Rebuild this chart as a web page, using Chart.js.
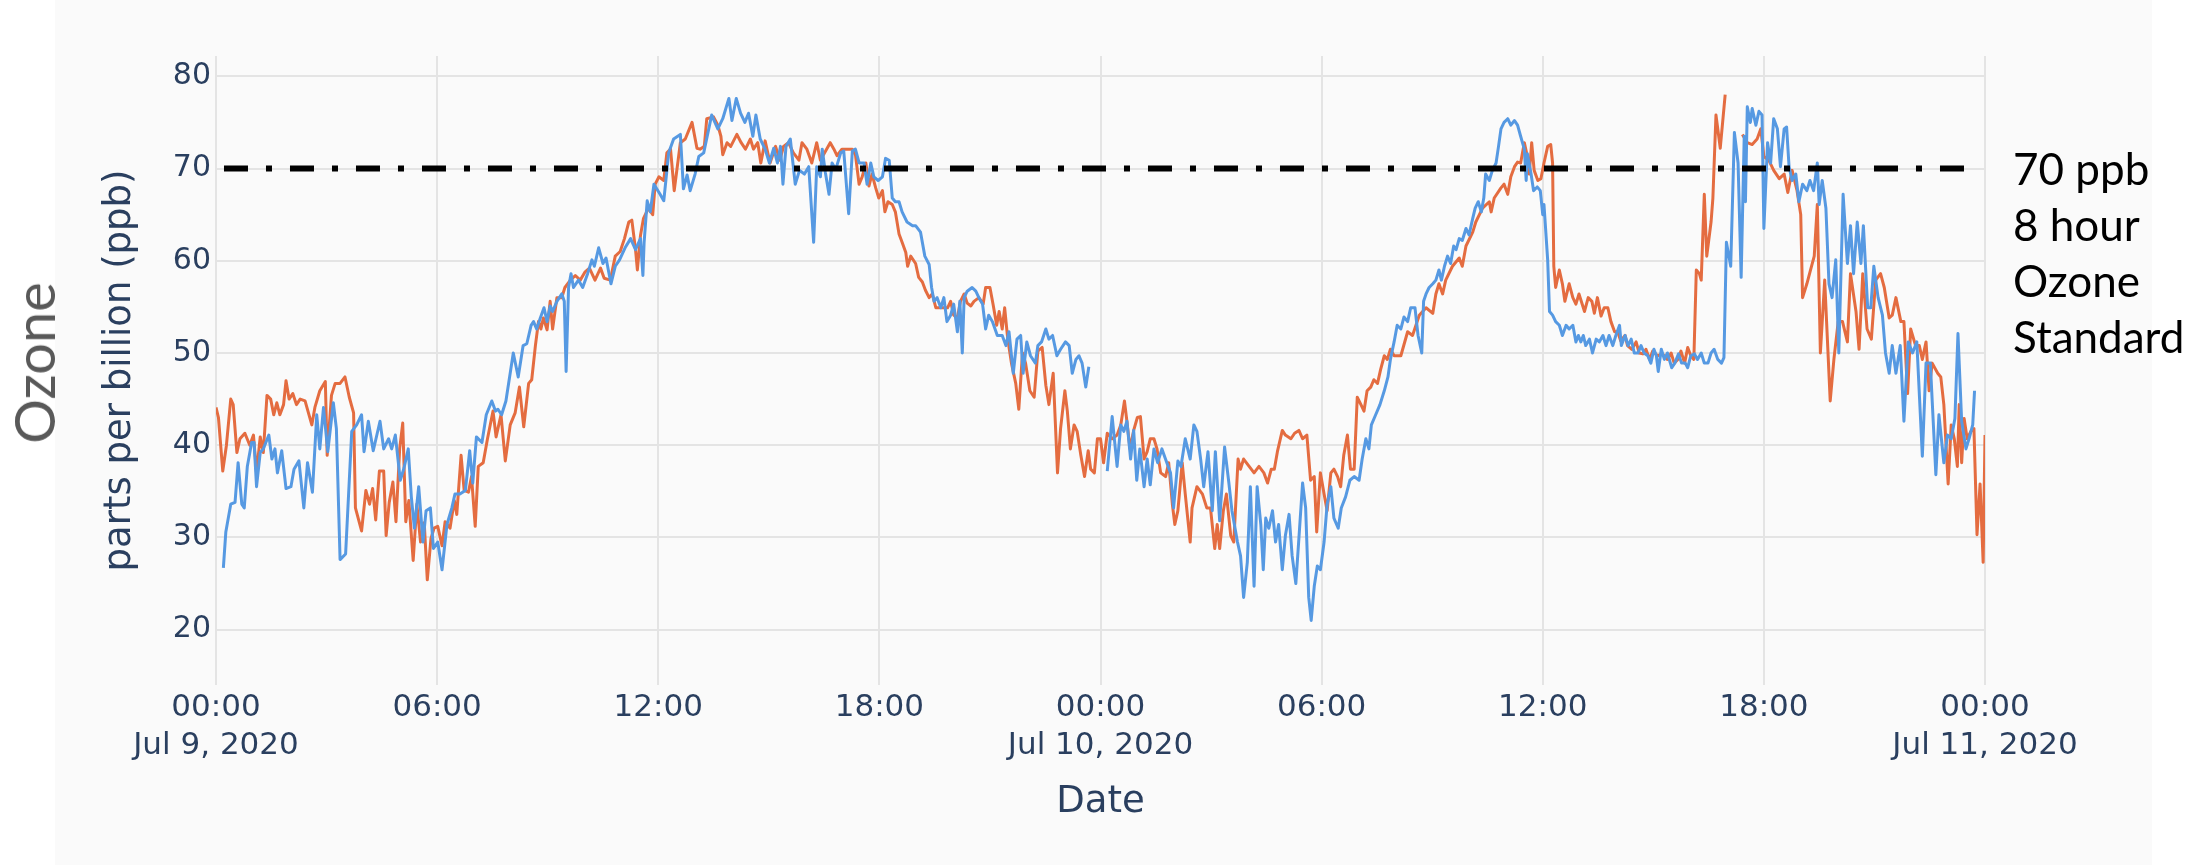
<!DOCTYPE html>
<html>
<head>
<meta charset="utf-8">
<title>Ozone, parts per billion, Jul 9–11, 2020</title>
<script src="https://cdn.jsdelivr.net/npm/chart.js@4.4.1/dist/chart.umd.min.js"></script>
<style>
  html, body { margin: 0; padding: 0; background: #ffffff; }
  #page { position: relative; width: 2202px; height: 865px; overflow: hidden; background: #ffffff; }
  #panel { position: absolute; left: 55px; top: 0; width: 2097px; height: 865px; background: #fafafa; }
  #chart { position: absolute; left: 0; top: 0; }
  #side {
    position: absolute; left: 34px; top: 363px;
    transform: translate(-50%, -50%) rotate(-90deg);
    font-family: Lato, "Open Sans", sans-serif; font-weight: 400; font-size: 56px;
    line-height: 1; color: #595959; white-space: nowrap;
  }
  #note {
    position: absolute; left: 2013px; top: 140px;
    font-family: Lato, "Open Sans", sans-serif; font-size: 44px; line-height: 56px;
    color: #000000; white-space: nowrap;
  }
</style>
</head>
<body>
<div id="page">
  <div id="panel"></div>
  <canvas id="chart" width="2202" height="865"></canvas>
  <div id="side">Ozone</div>
  <div id="note">70 ppb<br>8 hour<br>Ozone<br>Standard</div>
</div>
<script>
// Time axis: minutes after 00:00, Jul 9, 2020
const START_UTC = Date.UTC(2020, 6, 9);
const MONTHS = ['Jan', 'Feb', 'Mar', 'Apr', 'May', 'Jun', 'Jul', 'Aug', 'Sep', 'Oct', 'Nov', 'Dec'];
const xTicks = [0, 360, 720, 1080, 1440, 1800, 2160, 2520, 2880];
const yTicks = [20, 30, 40, 50, 60, 70, 80];

// 8-hour ozone standard (ppb)
const standardMinutes = [13, 2846];
const standardValues = [70, 70];

// Sensor 1 (blue)
const blueMinutes = [
  12, 16, 24, 31, 36, 42, 46, 51, 58, 62, 66, 72, 77, 86, 91, 96, 100, 107, 114, 122,
  127, 135, 143, 149, 157, 164, 169, 175, 182, 191, 196, 202, 211, 221, 229, 237, 241, 248, 256, 267,
  273, 281, 286, 292, 300, 306, 313, 318, 323, 330, 337, 342, 349, 354, 361, 368, 376, 384, 389, 397,
  406, 413, 418, 424, 433, 440, 449, 455, 459, 465, 472, 484, 492, 500, 506, 513, 517, 522, 528, 534,
  539, 544, 548, 555, 563, 567, 570, 574, 578, 582, 590, 597, 605, 612, 616, 623, 630, 635, 643, 650,
  657, 666, 675, 683, 691, 695, 697, 702, 707, 713, 723, 729, 737, 745, 756, 761, 767, 772, 780, 786,
  794, 807, 817, 825, 835, 840, 847, 854, 861, 867, 874, 879, 886, 894, 901, 908, 914, 919, 923, 928,
  935, 943, 950, 958, 965, 973, 978, 984, 987, 992, 998, 1003, 1009, 1017, 1022, 1030, 1036, 1041, 1047, 1055,
  1060, 1066, 1071, 1078, 1085, 1090, 1096, 1101, 1106, 1112, 1117, 1125, 1134, 1139, 1147, 1154, 1161, 1165, 1169, 1174,
  1180, 1185, 1190, 1196, 1201, 1207, 1211, 1215, 1218, 1223, 1231, 1237, 1242, 1248, 1253, 1258, 1264, 1272, 1280, 1286,
  1291, 1298, 1304, 1310, 1314, 1320, 1326, 1334, 1338, 1344, 1351, 1356, 1362, 1369, 1375, 1383, 1389, 1394, 1400, 1405,
  1410, 1416, 1421, 1436, 1451, 1459, 1467, 1473, 1478, 1483, 1489, 1494, 1499, 1504, 1511, 1516, 1521, 1527, 1533, 1540,
  1548, 1554, 1559, 1566, 1571, 1578, 1586, 1592, 1597, 1603, 1608, 1615, 1622, 1627, 1634, 1642, 1649, 1654, 1663, 1668,
  1673, 1679, 1684, 1690, 1695, 1701, 1705, 1709, 1714, 1720, 1725, 1730, 1736, 1741, 1747, 1752, 1758, 1763, 1769, 1774,
  1779, 1783, 1788, 1793, 1798, 1804, 1809, 1815, 1820, 1827, 1832, 1839, 1846, 1853, 1861, 1866, 1872, 1877, 1881, 1888,
  1895, 1902, 1908, 1912, 1918, 1923, 1929, 1934, 1940, 1945, 1952, 1957, 1963, 1966, 1970, 1975, 1981, 1986, 1991, 1995,
  2000, 2005, 2010, 2015, 2019, 2024, 2029, 2035, 2040, 2046, 2050, 2055, 2060, 2064, 2067, 2073, 2078, 2084, 2088, 2092,
  2097, 2103, 2108, 2114, 2119, 2124, 2130, 2133, 2135, 2141, 2145, 2151, 2156, 2160, 2162, 2165, 2168, 2171, 2176, 2181,
  2187, 2192, 2198, 2203, 2209, 2214, 2218, 2222, 2226, 2230, 2236, 2241, 2247, 2252, 2258, 2263, 2268, 2274, 2279, 2285,
  2288, 2294, 2299, 2304, 2309, 2315, 2320, 2325, 2331, 2336, 2341, 2345, 2348, 2353, 2358, 2363, 2370, 2375, 2381, 2386,
  2392, 2396, 2401, 2407, 2412, 2418, 2423, 2429, 2434, 2439, 2445, 2451, 2455, 2459, 2466, 2472, 2478, 2483, 2488, 2490,
  2493, 2498, 2501, 2507, 2512, 2517, 2520, 2526, 2531, 2536, 2542, 2547, 2553, 2557, 2561, 2566, 2572, 2577, 2583, 2590,
  2595, 2601, 2607, 2610, 2615, 2621, 2626, 2631, 2637, 2642, 2649, 2656, 2661, 2666, 2672, 2678, 2682, 2689, 2694, 2699,
  2706, 2713, 2718, 2724, 2729, 2735, 2742, 2748, 2755, 2762, 2769, 2778, 2784, 2791, 2800, 2805, 2813, 2819, 2825, 2831,
  2836, 2842, 2849, 2854, 2860, 2863
];
const blueValues = [
  26.7, 30.6, 33.6, 33.8, 38.1, 33.6, 33.2, 37.7, 40.3, 40.3, 35.5, 39.2, 39.6, 41.1, 38.5, 39.6, 37.0, 39.4, 35.3, 35.5,
  37.4, 38.3, 33.2, 38.1, 34.9, 43.3, 39.6, 44.1, 39.3, 44.6, 41.8, 27.6, 28.2, 41.5, 42.2, 43.3, 39.3, 42.6, 39.4, 42.6,
  39.6, 40.7, 39.6, 41.1, 36.2, 37.5, 39.6, 34.4, 31.0, 35.5, 29.5, 32.9, 33.2, 28.8, 29.5, 26.5, 31.4, 33.2, 34.7, 34.7,
  35.1, 39.4, 35.9, 40.9, 40.3, 43.3, 44.8, 43.7, 43.9, 43.3, 44.8, 50.0, 47.4, 50.8, 51.0, 53.0, 53.4, 52.6, 53.8, 54.9,
  53.4, 55.1, 54.5, 55.6, 56.4, 55.6, 48.0, 57.1, 58.6, 57.1, 57.9, 57.1, 58.6, 60.1, 59.4, 61.4, 59.7, 60.3, 57.5, 59.4,
  60.1, 61.4, 62.4, 61.2, 62.4, 58.4, 62.0, 66.5, 65.3, 68.3, 67.2, 66.5, 71.7, 73.2, 73.7, 67.8, 69.3, 67.6, 69.4, 71.3,
  71.7, 75.8, 74.3, 75.4, 77.6, 75.2, 77.6, 76.0, 75.0, 76.0, 73.5, 75.8, 73.2, 72.1, 70.6, 72.2, 70.6, 72.4, 68.3, 72.4,
  73.2, 68.3, 69.8, 69.4, 70.2, 62.0, 70.2, 69.1, 72.1, 69.6, 67.2, 70.6, 69.9, 71.7, 71.9, 65.1, 71.9, 72.1, 70.6, 70.6,
  68.3, 70.6, 69.1, 68.7, 69.1, 71.1, 70.9, 66.8, 66.4, 66.4, 65.3, 64.2, 63.8, 63.8, 63.1, 60.5, 59.6, 57.1, 55.6, 56.0,
  54.9, 56.0, 53.4, 54.1, 55.3, 52.3, 55.6, 50.0, 56.0, 56.7, 57.1, 56.7, 56.0, 55.3, 52.6, 54.1, 53.4, 51.9, 51.9, 50.8,
  52.3, 47.8, 51.5, 51.9, 47.8, 51.2, 49.7, 48.9, 50.8, 51.2, 52.6, 51.5, 51.9, 49.7, 50.4, 51.2, 50.8, 47.8, 49.3, 49.7,
  48.9, 46.3, 48.5, null, 37.2, 43.1, 37.7, 42.2, 41.5, 42.6, 38.5, 41.6, 36.2, 39.6, 35.5, 38.5, 35.7, 39.6, 38.1, 39.6,
  38.1, 37.0, 33.2, 38.3, 37.7, 40.7, 38.5, 42.2, 41.5, 38.5, 35.5, 39.3, 32.9, 39.3, 31.8, 39.8, 35.9, 32.9, 29.5, 28.0,
  23.5, 27.3, 35.5, 24.7, 35.5, 31.4, 26.5, 32.1, 31.0, 32.9, 29.5, 31.4, 26.5, 30.2, 32.5, 28.0, 25.0, 29.9, 35.9, 33.2,
  23.5, 21.0, 24.7, 26.9, 26.5, 29.5, 33.6, 35.5, 32.1, 31.0, 33.2, 34.4, 36.2, 36.6, 36.2, 38.5, 40.7, 39.6, 42.2, 43.3,
  44.4, 45.9, 47.4, 49.3, 51.2, 53.0, 52.6, 53.9, 53.4, 54.9, 54.9, 51.9, 50.0, 55.6, 56.4, 57.1, 57.5, 57.9, 59.0, 57.9,
  59.4, 60.5, 59.7, 61.6, 61.2, 62.4, 62.2, 63.5, 62.8, 64.6, 65.7, 66.4, 65.3, 66.8, 69.4, 68.7, 69.8, 70.6, 72.4, 74.3,
  75.0, 75.4, 74.7, 75.2, 74.7, 73.5, 72.1, 68.7, 71.6, 69.4, 67.6, 68.0, 67.6, 65.0, 66.1, 63.1, 60.1, 54.5, 54.1, 53.4,
  53.0, 51.9, 53.0, 52.6, 53.0, 51.2, 51.9, 51.2, 51.9, 50.8, 51.5, 50.0, 51.5, 51.2, 51.9, 50.8, 51.9, 50.8, 51.9, 53.0,
  50.8, 51.9, 50.8, 51.5, 50.0, 50.0, 50.8, 50.0, 49.7, 48.9, 50.4, 49.7, 48.0, 50.4, 49.3, 50.0, 48.4, 48.9, 49.9, 48.9,
  48.9, 48.4, 49.7, 49.9, 49.3, 50.0, 48.9, 48.9, 50.0, 50.4, 49.3, 48.9, 49.5, 62.0, 59.4, 73.9, 70.6, 58.2, 73.5, 66.4,
  76.7, 75.0, 76.5, 74.7, 76.2, 75.8, 63.5, 72.8, 70.6, 75.4, 74.3, 70.2, 74.3, 74.5, 70.2, 68.7, 69.4, 66.4, 68.3, 67.6,
  68.7, 67.6, 70.6, 66.1, 68.7, 65.7, 57.5, 56.0, 60.1, 50.0, 67.2, 59.7, 63.8, 58.6, 64.2, 59.7, 63.8, 54.9, 54.9, 59.4,
  56.0, 54.1, 50.0, 47.8, 50.8, 47.8, 50.8, 42.6, 51.2, 50.0, 51.2, 38.8, 48.9, 48.9, 36.8, 43.3, 38.1, 41.1, 40.7, 42.9,
  52.1, 42.6, 39.6, 40.7, 42.2, 45.9
];

// Sensor 2 (orange)
const orangeMinutes = [
  0, 4, 11, 17, 24, 28, 34, 39, 47, 55, 61, 66, 72, 77, 83, 89, 94, 99, 104, 110,
  114, 119, 125, 131, 137, 145, 156, 161, 169, 178, 181, 188, 194, 202, 210, 217, 224, 227, 237, 244,
  250, 255, 260, 266, 273, 277, 282, 288, 293, 299, 304, 309, 314, 321, 327, 333, 339, 344, 350, 355,
  361, 368, 373, 381, 388, 392, 399, 404, 411, 416, 422, 427, 435, 442, 451, 456, 464, 471, 479, 487,
  494, 501, 509, 514, 520, 525, 529, 533, 539, 544, 548, 555, 563, 568, 577, 585, 593, 601, 608, 617,
  626, 632, 642, 650, 658, 665, 672, 677, 683, 686, 691, 696, 704, 711, 715, 721, 729, 734, 740, 746,
  756, 764, 775, 783, 788, 795, 799, 810, 817, 822, 825, 832, 838, 848, 855, 862, 870, 875, 882, 887,
  894, 902, 911, 918, 924, 932, 940, 949, 954, 962, 970, 978, 984, 1000, 1006, 1011, 1019, 1028, 1036, 1041,
  1047, 1052, 1058, 1063, 1068, 1074, 1079, 1085, 1089, 1094, 1101, 1106, 1112, 1117, 1123, 1126, 1131, 1139, 1144, 1150,
  1155, 1161, 1166, 1172, 1180, 1185, 1191, 1196, 1201, 1207, 1212, 1218, 1223, 1229, 1234, 1242, 1249, 1253, 1260, 1265,
  1271, 1275, 1280, 1284, 1289, 1295, 1302, 1307, 1313, 1318, 1325, 1332, 1338, 1345, 1351, 1356, 1363, 1370, 1375, 1382,
  1386, 1391, 1397, 1402, 1408, 1414, 1420, 1424, 1430, 1435, 1440, 1445, 1451, 1459, 1467, 1473, 1479, 1483, 1488, 1494,
  1500, 1505, 1511, 1516, 1521, 1527, 1532, 1538, 1546, 1551, 1557, 1561, 1566, 1573, 1578, 1586, 1589, 1597, 1606, 1613,
  1619, 1626, 1630, 1634, 1640, 1645, 1652, 1657, 1664, 1668, 1673, 1682, 1690, 1698, 1706, 1712, 1718, 1723, 1728, 1736,
  1741, 1750, 1756, 1763, 1769, 1776, 1782, 1788, 1792, 1798, 1804, 1809, 1815, 1820, 1826, 1831, 1836, 1842, 1847, 1853,
  1858, 1864, 1869, 1874, 1880, 1885, 1891, 1896, 1902, 1907, 1912, 1918, 1923, 1929, 1940, 1948, 1959, 1970, 1981, 1986,
  1991, 1997, 2002, 2013, 2024, 2029, 2035, 2046, 2051, 2062, 2073, 2076, 2081, 2092, 2097, 2103, 2108, 2114, 2119, 2124,
  2130, 2135, 2138, 2142, 2146, 2152, 2157, 2162, 2168, 2173, 2176, 2178, 2181, 2187, 2192, 2196, 2203, 2209, 2214, 2219,
  2228, 2234, 2240, 2244, 2249, 2255, 2260, 2266, 2271, 2277, 2282, 2287, 2294, 2298, 2305, 2312, 2317, 2323, 2328, 2334,
  2339, 2347, 2355, 2363, 2369, 2374, 2380, 2385, 2391, 2396, 2401, 2406, 2410, 2415, 2418, 2423, 2427, 2434, 2437, 2442,
  2449, 2457, 2471, 2485, 2493, 2501, 2509, 2515, 2520, 2528, 2536, 2545, 2553, 2559, 2566, 2574, 2580, 2583, 2590, 2596,
  2602, 2607, 2612, 2619, 2628, 2634, 2641, 2648, 2656, 2661, 2670, 2675, 2681, 2688, 2695, 2702, 2710, 2716, 2724, 2729,
  2735, 2743, 2748, 2754, 2759, 2767, 2773, 2778, 2784, 2789, 2794, 2803, 2808, 2813, 2820, 2825, 2830, 2835, 2838, 2842,
  2846, 2851, 2857, 2862, 2867, 2872, 2877, 2880
];
const orangeValues = [
  44.1, 43.0, 37.2, 40.0, 45.0, 44.4, 39.2, 40.7, 41.3, 40.0, 41.1, 37.0, 40.9, 39.2, 45.4, 45.0, 43.3, 44.6, 43.3, 44.4,
  47.0, 45.0, 45.6, 44.4, 45.0, 44.8, 42.2, 44.1, 45.9, 46.9, 38.9, 45.4, 46.7, 46.7, 47.4, 45.2, 43.5, 33.2, 30.7, 35.1,
  33.6, 35.3, 31.9, 37.2, 37.2, 30.2, 33.8, 36.0, 31.7, 39.6, 42.4, 31.7, 34.0, 27.5, 33.6, 29.5, 31.6, 25.4, 29.9, 31.0,
  31.2, 29.1, 31.7, 31.0, 34.0, 32.5, 38.9, 35.1, 34.9, 36.6, 31.2, 37.7, 38.1, 40.7, 43.7, 40.9, 43.3, 38.3, 42.2, 43.5,
  46.3, 42.0, 46.7, 47.1, 50.8, 53.4, 52.6, 53.8, 52.5, 55.6, 52.6, 56.0, 56.0, 57.1, 57.9, 58.4, 57.9, 58.8, 59.2, 57.9,
  59.2, 58.1, 57.9, 60.5, 61.0, 62.4, 64.2, 64.4, 61.2, 59.0, 62.7, 64.6, 65.7, 65.0, 68.3, 69.1, 68.7, 71.7, 72.1, 67.6,
  72.8, 73.2, 75.0, 72.2, 72.1, 72.4, 75.4, 75.6, 74.7, 73.5, 71.5, 72.8, 72.4, 73.7, 72.8, 72.1, 73.2, 72.1, 72.8, 70.6,
  73.0, 70.6, 72.4, 70.9, 72.4, 72.8, 71.7, 70.9, 72.8, 72.1, 70.6, 72.8, 70.9, 72.8, 72.1, 71.4, 72.1, 72.1, 72.1, 71.5,
  68.3, 69.1, 70.6, 68.1, 69.4, 67.9, 66.8, 67.6, 65.3, 66.4, 66.1, 65.3, 62.9, 62.0, 60.9, 59.4, 60.5, 59.7, 58.2, 57.7,
  56.8, 56.0, 56.4, 54.9, 54.9, 54.9, 54.9, 55.6, 54.1, 53.8, 55.6, 56.4, 55.4, 55.1, 55.6, 56.0, 55.3, 57.1, 57.1, 55.3,
  53.0, 54.5, 52.6, 54.9, 51.5, 48.9, 46.7, 43.9, 50.0, 48.9, 45.9, 45.2, 50.2, 50.6, 46.5, 44.4, 47.8, 37.0, 41.8, 45.9,
  43.7, 39.6, 42.2, 41.5, 38.9, 36.6, 39.4, 37.4, 37.0, 40.7, 40.7, 38.1, 41.3, 40.7, 41.1, 42.2, 44.8, 42.6, 39.6, 41.6,
  43.0, 43.1, 38.5, 39.3, 40.7, 40.7, 39.6, 37.0, 36.6, 38.1, 33.6, 31.4, 32.9, 38.1, 34.7, 29.5, 33.2, 35.5, 34.7, 33.2,
  33.2, 28.8, 31.4, 28.8, 32.9, 34.7, 30.2, 29.5, 38.5, 37.4, 38.5, 37.7, 37.0, 37.7, 37.0, 35.9, 37.4, 37.4, 39.3, 41.6,
  41.1, 40.7, 41.3, 41.6, 40.7, 41.1, 36.2, 36.6, 30.6, 37.0, 34.7, 32.9, 37.0, 37.4, 36.6, 35.5, 38.9, 41.1, 37.4, 37.4,
  45.2, 44.4, 43.7, 45.9, 46.3, 47.1, 46.7, 48.2, 49.7, 49.3, 50.4, 49.7, 49.7, 49.7, 52.3, 51.9, 54.1, 54.9, 54.3, 56.4,
  57.5, 56.4, 57.9, 59.4, 60.3, 59.4, 61.6, 63.1, 64.2, 65.7, 66.4, 65.3, 66.8, 67.9, 68.3, 67.2, 69.1, 70.2, 70.7, 70.6,
  72.8, 71.3, 69.4, 72.8, 69.8, 68.7, 68.9, 70.6, 72.4, 72.6, 70.6, 59.4, 57.1, 59.0, 57.5, 55.6, 57.5, 56.0, 55.3, 56.4,
  54.5, 56.0, 55.6, 54.3, 56.0, 54.0, 54.9, 54.9, 53.4, 52.3, 52.3, 51.3, 51.9, 50.8, 50.4, 51.2, 50.0, 49.9, 50.4, 49.3,
  50.2, 49.7, 49.9, 49.3, 50.0, 48.9, 49.3, 50.2, 48.9, 50.6, 49.7, 49.3, 59.0, 58.6, 57.9, 67.2, 60.5, 64.2, 66.8, 75.8,
  72.2, 78.0, null, 73.7, 72.8, 72.6, 73.2, 74.3, 71.3, 70.9, 69.8, 68.9, 69.4, 67.4, 69.8, 67.6, 65.0, 56.0, 57.5, 59.0,
  60.5, 66.1, 50.0, 57.9, 44.8, 49.3, 53.4, 53.4, 51.2, 58.6, 54.5, 50.4, 58.6, 52.6, 51.5, 57.9, 58.6, 57.1, 53.8, 54.1,
  56.0, 53.4, 53.4, 45.6, 52.6, 50.8, 50.8, 49.3, 51.2, 45.9, 48.9, 47.8, 47.4, 44.4, 35.8, 42.2, 40.7, 37.7, 44.4, 38.1,
  42.9, 40.7, 41.5, 41.8, 30.3, 35.8, 27.3, 41.1
];

const BLUE = 'rgb(86, 153, 226)';
const ORANGE = 'rgb(228, 108, 64)';
const TICK_COLOR = '#2a3f5f';
const GRID_COLOR = '#e4e4e4';

function points(minutes, values) {
  return minutes.map((m, i) => ({ x: m, y: values[i] }));
}

function pad2(n) { return String(n).padStart(2, '0'); }

function timeLabel(minute) {
  const d = new Date(START_UTC + minute * 60000);
  const hhmm = pad2(d.getUTCHours()) + ':' + pad2(d.getUTCMinutes());
  if (d.getUTCHours() === 0 && d.getUTCMinutes() === 0) {
    return [hhmm, MONTHS[d.getUTCMonth()] + ' ' + d.getUTCDate() + ', ' + d.getUTCFullYear()];
  }
  return hhmm;
}

const FAMILY = '"DejaVu Sans", Verdana, sans-serif';
const xTickFont = { family: FAMILY, size: 31, lineHeight: 1.23 };
const yTickFont = { family: FAMILY, size: 30, lineHeight: 1.2 };
const titleFont = { family: FAMILY, size: 37, lineHeight: 1.2 };

new Chart(document.getElementById('chart'), {
  type: 'line',
  data: {
    datasets: [
      {
        label: '70 ppb 8 hour Ozone Standard',
        data: points(standardMinutes, standardValues),
        borderColor: '#000000',
        borderWidth: 6,
        borderDash: [24, 18, 6, 18],
        borderCapStyle: 'butt',
        pointRadius: 0,
        order: 0
      },
      {
        label: 'Sensor 1',
        data: points(blueMinutes, blueValues),
        borderColor: BLUE,
        borderWidth: 3,
        pointRadius: 0,
        spanGaps: false,
        order: 1
      },
      {
        label: 'Sensor 2',
        data: points(orangeMinutes, orangeValues),
        borderColor: ORANGE,
        borderWidth: 3,
        pointRadius: 0,
        spanGaps: false,
        order: 2
      }
    ]
  },
  options: {
    responsive: false,
    animation: false,
    devicePixelRatio: 1,
    layout: { padding: { left: 0, right: 217, top: 56, bottom: 0 } },
    plugins: { legend: { display: false }, tooltip: { enabled: false } },
    elements: { line: { tension: 0, borderJoinStyle: 'round' } },
    scales: {
      x: {
        type: 'linear',
        min: 0,
        max: 2880,
        afterBuildTicks: (scale) => { scale.ticks = xTicks.map(v => ({ value: v })); },
        afterFit: (scale) => { scale.height = 180; },
        border: { display: false },
        grid: { color: GRID_COLOR, lineWidth: 2, drawTicks: false },
        ticks: {
          autoSkip: false,
          maxRotation: 0,
          padding: 4,
          color: TICK_COLOR,
          font: xTickFont,
          callback: (value) => timeLabel(value)
        },
        title: {
          display: true,
          text: 'Date',
          color: TICK_COLOR,
          font: titleFont,
          padding: { top: 0, bottom: 40 }
        }
      },
      y: {
        type: 'linear',
        min: 14,
        max: 82.2,
        afterBuildTicks: (scale) => { scale.ticks = yTicks.map(v => ({ value: v })); },
        afterFit: (scale) => { scale.width = 216; },
        border: { display: false },
        grid: { color: GRID_COLOR, lineWidth: 2, drawTicks: false },
        ticks: {
          padding: 5,
          color: TICK_COLOR,
          font: yTickFont
        },
        title: {
          display: true,
          text: 'parts per billion (ppb)',
          color: TICK_COLOR,
          font: titleFont,
          padding: { top: 98, bottom: 0 }
        }
      }
    }
  }
});
</script>
</body>
</html>
